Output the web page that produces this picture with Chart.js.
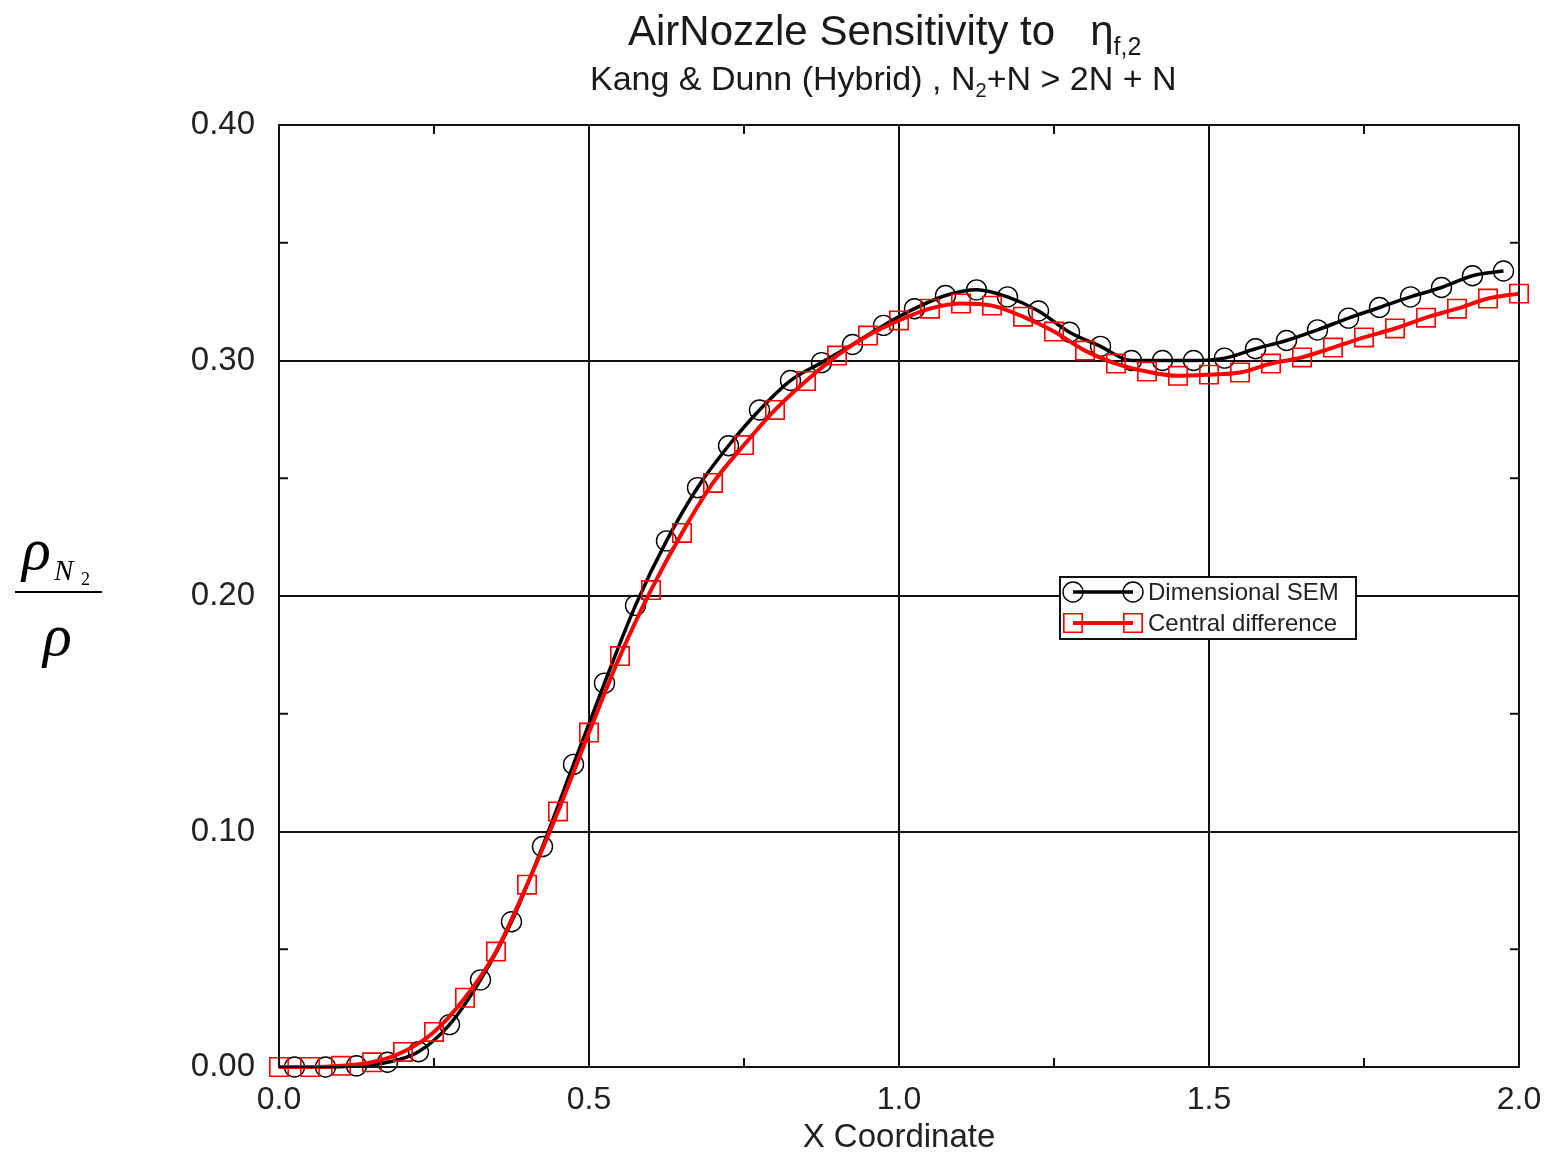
<!DOCTYPE html>
<html>
<head>
<meta charset="utf-8">
<script src="https://cdn.jsdelivr.net/npm/chart.js@4.4.1/dist/chart.umd.min.js"></script>
<style>
  html, body { margin: 0; padding: 0; background: #fff; }
  #wrap { position: relative; width: 1551px; height: 1155px; overflow: hidden; }
  #graph { position: absolute; left: 0; top: 0; }
  .t { position: absolute; white-space: nowrap; color: #1a1a1a; font-family: "Liberation Sans", Arial, sans-serif; line-height: 1; }
  .ser { position: absolute; white-space: nowrap; color: #000; font-family: "Liberation Serif", "Times New Roman", serif; font-style: italic; line-height: 1; }
</style>
</head>
<body>
<div id="wrap">
  <canvas id="graph" width="1551" height="1155"></canvas>
  <div class="t" style="left:628px; top:10px; font-size:42px;">AirNozzle Sensitivity to&nbsp;&nbsp;&nbsp;η<span style="font-size:25px; position:relative; top:10px;">f,2</span></div>
  <div class="t" style="left:590px; top:61px; font-size:34px;">Kang &amp; Dunn (Hybrid) , N<span style="font-size:20px; position:relative; top:7px;">2</span>+N &gt; 2N + N</div>
  <span class="ser" style="left:22px; top:519px; font-size:60px;">ρ</span>
  <span class="ser" style="left:54px; top:556px; font-size:29px;">N</span>
  <span class="ser" style="left:81px; top:570px; font-size:18px; font-style:normal;">2</span>
  <div style="position:absolute; left:15px; top:591px; width:87px; height:2px; background:#000;"></div>
  <span class="ser" style="left:43px; top:605px; font-size:60px;">ρ</span>
</div>
<script>
// x positions of the markers
const semX = [0.025, 0.075, 0.125, 0.175, 0.225, 0.275, 0.325, 0.375, 0.425, 0.475,
  0.525, 0.575, 0.625, 0.675, 0.725, 0.775, 0.825, 0.875, 0.925, 0.975,
  1.025, 1.075, 1.125, 1.175, 1.225, 1.275, 1.325, 1.375, 1.425, 1.475,
  1.525, 1.575, 1.625, 1.675, 1.725, 1.775, 1.825, 1.875, 1.925, 1.975]
const semY = [0.000, 0.000, 0.0005, 0.002, 0.0065, 0.018, 0.037, 0.0617, 0.0936, 0.1285,
  0.163, 0.196, 0.2234, 0.246, 0.2638, 0.279, 0.2915, 0.2991, 0.3068, 0.3149,
  0.322, 0.3276, 0.330, 0.327, 0.321, 0.312, 0.306, 0.300, 0.300, 0.300,
  0.301, 0.305, 0.3085, 0.313, 0.318, 0.3225, 0.327, 0.331, 0.336, 0.338]

const cdX = [0.00, 0.05, 0.10, 0.15, 0.20, 0.25, 0.30, 0.35, 0.40, 0.45,
  0.50, 0.55, 0.60, 0.65, 0.70, 0.75, 0.80, 0.85, 0.90, 0.95,
  1.00, 1.05, 1.10, 1.15, 1.20, 1.25, 1.30, 1.35, 1.40, 1.45,
  1.50, 1.55, 1.60, 1.65, 1.70, 1.75, 1.80, 1.85, 1.90, 1.95, 2.00]
const cdY = [0.000, 0.000, 0.0005, 0.002, 0.0064, 0.0149, 0.0294, 0.049, 0.0774, 0.1085,
  0.142, 0.1745, 0.2025, 0.2268, 0.248, 0.2641, 0.279, 0.2913, 0.3021, 0.3106,
  0.317, 0.322, 0.3242, 0.3233, 0.3186, 0.3123, 0.3042, 0.2987, 0.2953, 0.2935,
  0.294, 0.2949, 0.2987, 0.3013, 0.3055, 0.3098, 0.3136, 0.3182, 0.322, 0.3263, 0.3284]

const seriesNames = ['Dimensional SEM', 'Central difference']
const xTicks = [0, 0.5, 1.0, 1.5, 2.0]
const yTicks = [0, 0.1, 0.2, 0.3, 0.4]
const xMinor = [0.25, 0.75, 1.25, 1.75]
const yMinor = [0.05, 0.15, 0.25, 0.35]

const FONT = '"Liberation Sans", Arial, sans-serif'

function toPoints(xs, ys){
    return xs.map((x, i) => ({x: x, y: ys[i]}))
}

// border, minor ticks and the boxed legend
const extras = {
    id: 'extras',
    afterDatasetsDraw(chart){
        const ctx = chart.ctx
        const a = chart.chartArea
        const xs = chart.scales.x
        const ys = chart.scales.y
        ctx.save()
        ctx.strokeStyle = '#111'
        ctx.lineWidth = 2
        ctx.strokeRect(a.left, a.top, a.right - a.left, a.bottom - a.top)
        ctx.beginPath()
        yMinor.forEach(v => {
            const p = ys.getPixelForValue(v)
            ctx.moveTo(a.left, p); ctx.lineTo(a.left + 9, p)
            ctx.moveTo(a.right, p); ctx.lineTo(a.right - 9, p)
        })
        xMinor.forEach(v => {
            const p = xs.getPixelForValue(v)
            ctx.moveTo(p, a.bottom); ctx.lineTo(p, a.bottom - 9)
            ctx.moveTo(p, a.top); ctx.lineTo(p, a.top + 9)
        })
        ctx.stroke()

        // legend
        const lx = a.left + 781, ly = a.top + 452
        ctx.fillStyle = '#fff'
        ctx.fillRect(lx, ly, 296, 62)
        ctx.strokeStyle = '#111'
        ctx.lineWidth = 2
        ctx.strokeRect(lx, ly, 296, 62)
        ctx.font = '24px ' + FONT
        ctx.textBaseline = 'middle'
        const rows = [chart.data.datasets[1], chart.data.datasets[0]]
        rows.forEach((ds, i) => {
            const y = ly + 15 + i * 31
            const x1 = lx + 13, x2 = lx + 73
            ctx.strokeStyle = ds.borderColor
            ctx.lineWidth = ds.borderWidth
            ctx.beginPath(); ctx.moveTo(x1, y); ctx.lineTo(x2, y); ctx.stroke()
            ctx.lineWidth = ds.pointBorderWidth
            ;[x1, x2].forEach(px => {
                ctx.beginPath()
                if (ds.pointStyle === 'circle') {
                    ctx.arc(px, y, ds.pointRadius, 0, Math.PI * 2)
                } else {
                    const s = ds.pointRadius * Math.SQRT1_2
                    ctx.rect(px - s, y - s, 2 * s, 2 * s)
                }
                ctx.stroke()
            })
            ctx.fillStyle = '#222'
            ctx.fillText(ds.label, lx + 88, y + 1)
        })
        ctx.restore()
    }
}

const graph = new Chart(document.querySelector('#graph'), {
    type: 'line',
    data: {
      datasets: [{
        label: seriesNames[1],
        data: toPoints(cdX, cdY),
        borderColor: '#ff0000',
        borderWidth: 4,
        pointStyle: 'rect',
        pointRadius: 13,
        pointBorderWidth: 1.6,
        pointBorderColor: '#ff0000',
        pointBackgroundColor: 'rgba(0,0,0,0)',
        cubicInterpolationMode: 'monotone',
        clip: false,
        order: 0
      }, {
        label: seriesNames[0],
        data: toPoints(semX, semY),
        borderColor: '#000000',
        borderWidth: 3.5,
        pointStyle: 'circle',
        pointRadius: 10,
        pointBorderWidth: 1.4,
        pointBorderColor: '#000000',
        pointBackgroundColor: 'rgba(0,0,0,0)',
        cubicInterpolationMode: 'monotone',
        clip: false,
        order: 1
      }]
    },
    options: {
      responsive: false,
      animation: false,
      devicePixelRatio: 1,
      layout: { padding: { left: 0, top: 125, right: 32, bottom: 0 } },
      plugins: { legend: { display: false }, tooltip: { enabled: false } },
      scales: {
        x: {
          type: 'linear',
          min: 0, max: 2,
          afterBuildTicks: s => { s.ticks = xTicks.map(v => ({value: v})) },
          afterFit: s => { s.height = 88; s.paddingLeft = 0; s.paddingRight = 0 },
          border: { display: false },
          grid: { color: '#111', lineWidth: 2, drawTicks: false },
          ticks: {
            padding: 14,
            color: '#222',
            font: { family: FONT, size: 32 },
            callback: v => Number(v).toFixed(1)
          },
          title: {
            display: true,
            text: 'X Coordinate',
            color: '#222',
            padding: { top: 0, bottom: -3 },
            font: { family: FONT, size: 33 }
          }
        },
        y: {
          min: 0, max: 0.4,
          afterBuildTicks: s => { s.ticks = yTicks.map(v => ({value: v})) },
          afterFit: s => { s.width = 279; s.paddingTop = 0; s.paddingBottom = 0 },
          border: { display: false },
          grid: { color: '#111', lineWidth: 2, drawTicks: false },
          ticks: {
            padding: 24,
            color: '#222',
            font: { family: FONT, size: 33 },
            callback: v => Number(v).toFixed(2)
          }
        }
      }
    },
    plugins: [extras]
  });
</script>
</body>
</html>
